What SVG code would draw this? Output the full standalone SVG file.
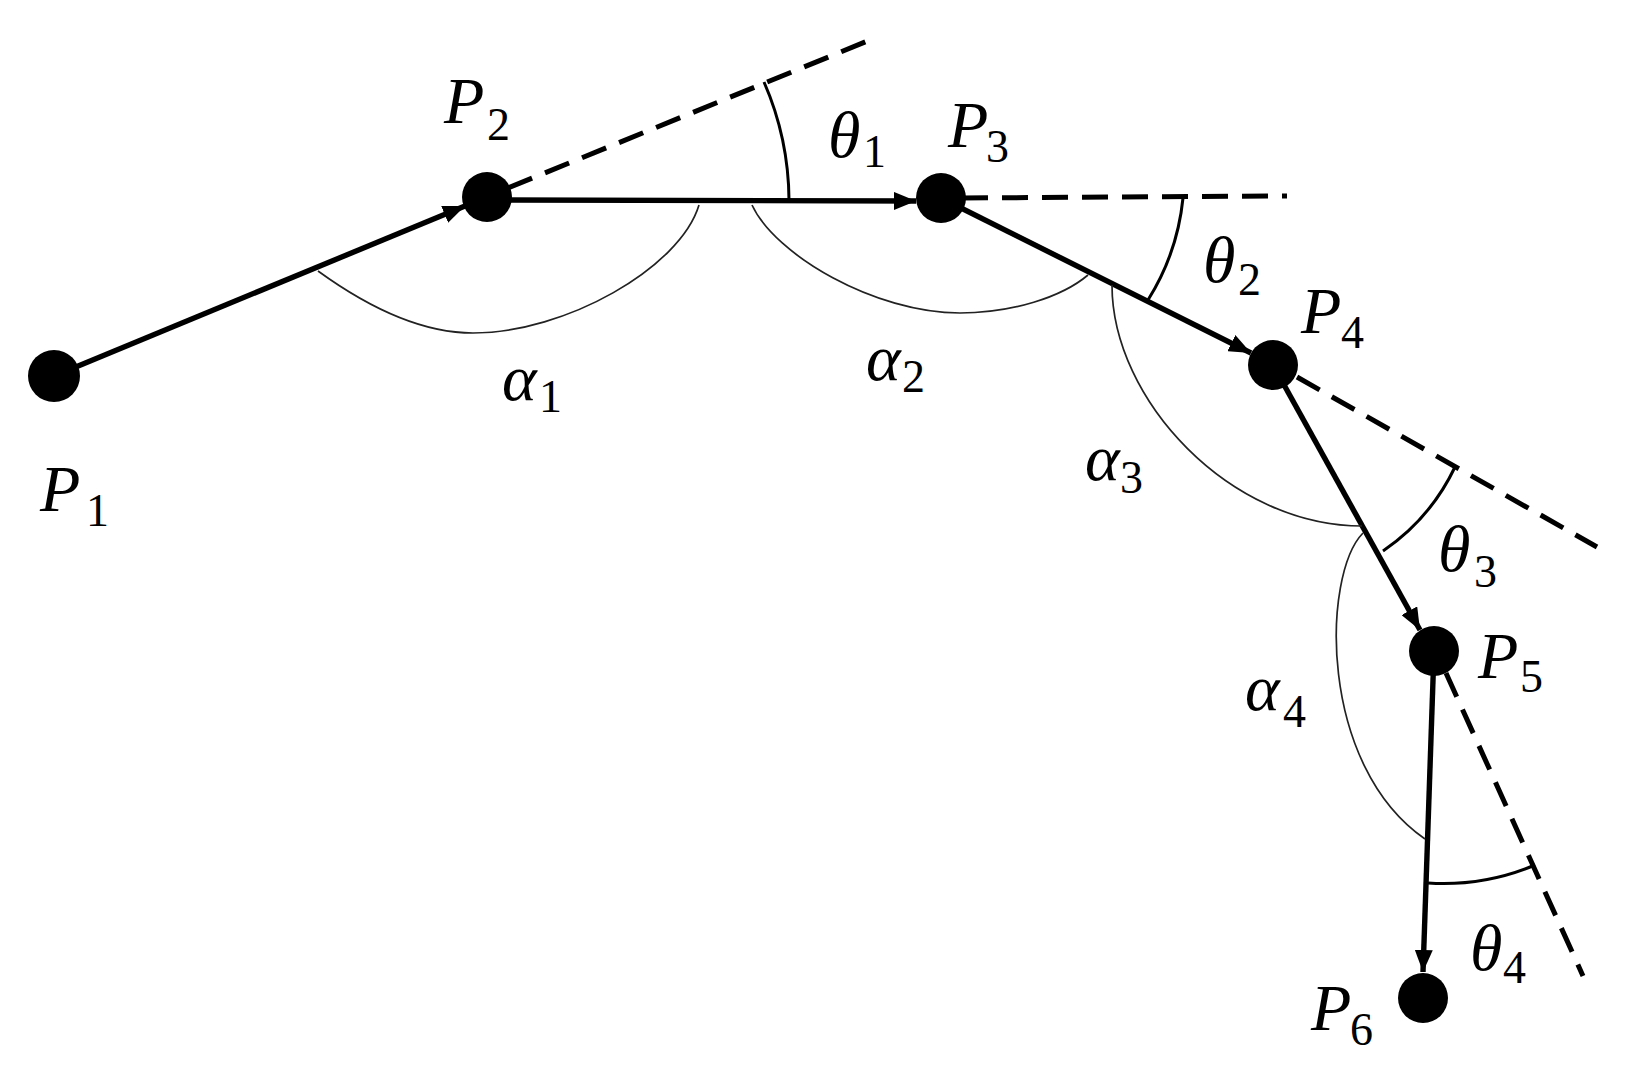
<svg xmlns="http://www.w3.org/2000/svg" width="1625" height="1071" viewBox="0 0 1625 1071">
<style>
.bg{fill:#ffffff}
.pt{fill:#000000}
.seg{stroke:#000;stroke-width:5.4;fill:none;marker-end:url(#arr)}
.dash{stroke:#000;stroke-width:5;fill:none;stroke-dasharray:26 14}
.th{stroke:#000;stroke-width:3;fill:none}
.al{stroke:#222;stroke-width:1.7;fill:none}
.m{font-family:"Liberation Serif","Times New Roman",serif;font-style:italic;font-size:66px;fill:#000}
.s{font-style:normal;font-size:46px}
</style>
<defs>
<marker id="arr" viewBox="0 0 22 18" refX="22" refY="9" markerWidth="22" markerHeight="18" markerUnits="userSpaceOnUse" orient="auto">
<path d="M0,0 L22,9 L0,18 Z" fill="#000"/>
</marker>
</defs>
<rect class="bg" x="0" y="0" width="1625" height="1071"/>
<g id="connectors">
<line class="seg" x1="54" y1="376" x2="465" y2="206"/>
<line class="seg" x1="487" y1="200" x2="916" y2="201"/>
<line class="seg" x1="941" y1="198" x2="1251" y2="353"/>
<line class="seg" x1="1273" y1="365" x2="1420" y2="630"/>
<line class="seg" x1="1434" y1="651" x2="1423" y2="972"/>
</g>
<g id="extensions">
<line class="dash" x1="508" y1="188" x2="870" y2="40"/>
<line class="dash" x1="962" y1="198" x2="1287" y2="196"/>
<line class="dash" x1="1297" y1="377" x2="1597" y2="547"/>
<line class="dash" x1="1446" y1="673" x2="1583" y2="976"/>
</g>
<g id="angles">
<path class="th" d="M764,82 A300,300 0 0 1 789,200"/>
<path class="th" d="M1183,198 A236,236 0 0 1 1148,300"/>
<path class="th" d="M1455,467 A212,212 0 0 1 1383,551"/>
<path class="th" d="M1535,865 A236,236 0 0 1 1428,883"/>
<path class="al" d="M318,271 C358,300 415,333 473,333 C565,333 680,268 699,205"/>
<path class="al" d="M752,205 C775,255 875,313 960,313 C1012,313 1062,297 1088,275"/>
<path class="al" d="M1112,285 C1112,400 1230,526 1362,526"/>
<path class="al" d="M1363,533 C1322,575 1318,765 1425,839"/>
<text class="m" x="828" y="157">θ<tspan class="s" x="863" y="167">1</tspan></text>
<text class="m" x="1203" y="282">θ<tspan class="s" x="1238" y="295">2</tspan></text>
<text class="m" x="1438" y="571">θ<tspan class="s" x="1474" y="587">3</tspan></text>
<text class="m" x="1470" y="970">θ<tspan class="s" x="1503" y="983">4</tspan></text>
<text class="m" x="502" y="400">α<tspan class="s" x="539" y="412">1</tspan></text>
<text class="m" x="866" y="380">α<tspan class="s" x="902" y="392">2</tspan></text>
<text class="m" x="1085" y="480">α<tspan class="s" x="1120" y="493">3</tspan></text>
<text class="m" x="1245" y="710">α<tspan class="s" x="1283" y="727">4</tspan></text>
</g>
<g id="P1"><circle class="pt" cx="54" cy="376" r="26"/><text class="m" x="40" y="511">P<tspan class="s" x="86" y="526">1</tspan></text></g>
<g id="P2"><circle class="pt" cx="487" cy="197" r="25"/><text class="m" x="444" y="123">P<tspan class="s" x="487" y="140">2</tspan></text></g>
<g id="P3"><circle class="pt" cx="941" cy="198" r="25"/><text class="m" x="948" y="147">P<tspan class="s" x="986" y="162">3</tspan></text></g>
<g id="P4"><circle class="pt" cx="1273" cy="365" r="25"/><text class="m" x="1301" y="333">P<tspan class="s" x="1341" y="348">4</tspan></text></g>
<g id="P5"><circle class="pt" cx="1434" cy="651" r="25"/><text class="m" x="1478" y="678">P<tspan class="s" x="1520" y="692">5</tspan></text></g>
<g id="P6"><circle class="pt" cx="1423" cy="998" r="25"/><text class="m" x="1311" y="1030">P<tspan class="s" x="1350" y="1045">6</tspan></text></g>
</svg>
